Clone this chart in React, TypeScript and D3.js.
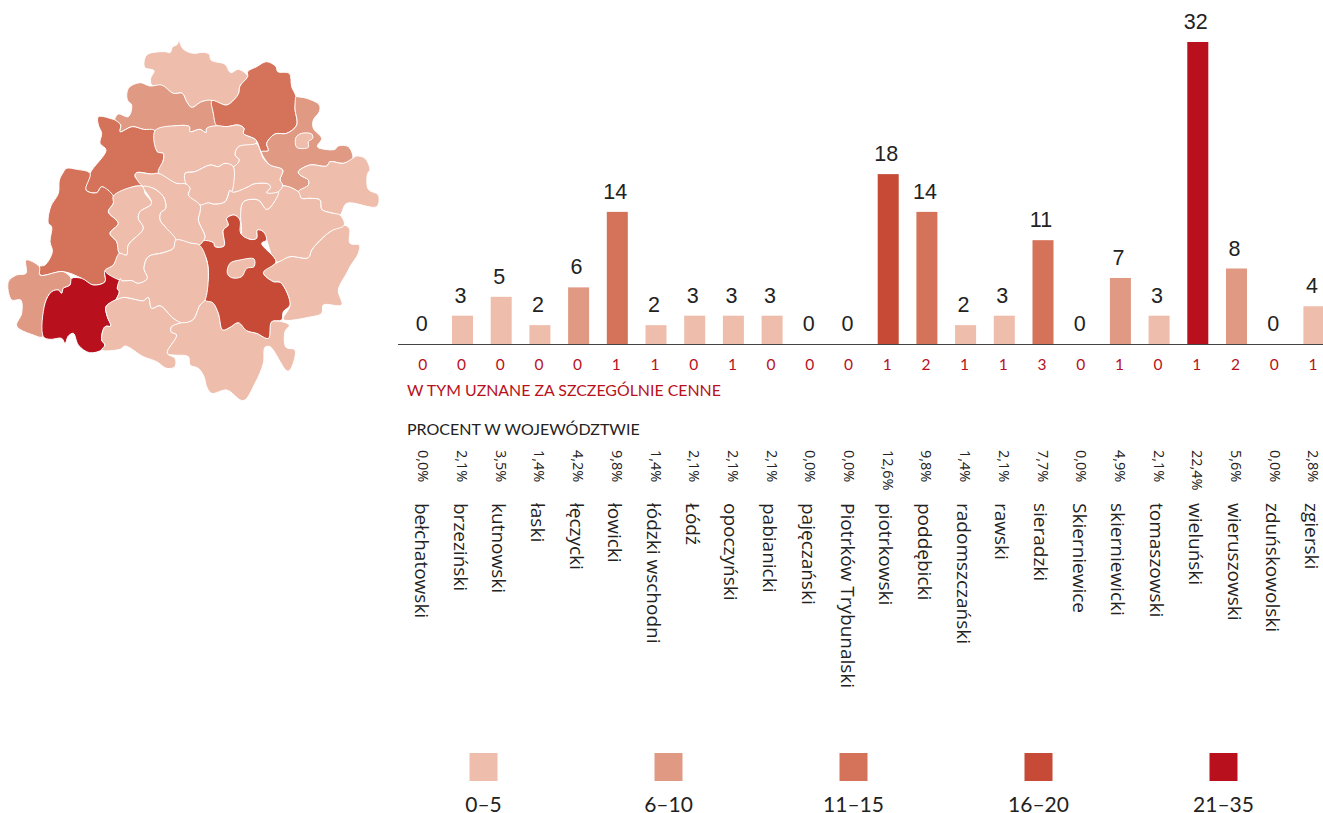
import React from "react";
import * as d3 from "d3";

const names = ["bełchatowski","brzeziński","kutnowski","łaski","łęczycki","łowicki","łódzki wschodni","Łódź","opoczyński","pabianicki","pajęczański","Piotrków Trybunalski","piotrkowski","poddębicki","radomszczański","rawski","sieradzki","Skierniewice","skierniewicki","tomaszowski","wieluński","wieruszowski","zduńskowolski","zgierski"];
const totals = [0,3,5,2,6,14,2,3,3,3,0,0,18,14,2,3,11,0,7,3,32,8,0,4];
const special = [0,0,0,0,0,1,1,0,1,0,0,0,1,2,1,1,3,0,1,0,1,2,0,1];
const percents = ["0,0%","2,1%","3,5%","1,4%","4,2%","9,8%","1,4%","2,1%","2,1%","2,1%","0,0%","0,0%","12,6%","9,8%","1,4%","2,1%","7,7%","0,0%","4,9%","2,1%","22,4%","5,6%","0,0%","2,8%"];
const legendLabels = ["0–5","6–10","11–15","16–20","21–35"];
const legendColors = ["#eebdac","#e09a84","#d5735a","#c64a36","#b8111d"];
const thresholds = [6,11,16,21];

type Pt = [number, number];
// Outline tracing of the powiats, in a 3x trace space of the map area.
const shapes: [string, Pt[]][] = [
["kutnowski",[[537,33],[543,47],[553,60],[580,70],[610,67],[628,73],[633,90],[675,103],[692,128],[715,118],[743,140],[720,168],[716,190],[703,208],[680,225],[636,212],[605,215],[575,232],[560,215],[547,190],[520,190],[485,168],[455,165],[452,145],[462,122],[434,112],[440,75],[495,65],[510,68],[518,50],[530,45]]],
["łęczycki",[[345,265],[355,252],[385,260],[395,225],[382,210],[385,175],[420,158],[450,168],[485,165],[520,190],[547,190],[560,215],[575,232],[605,215],[636,212],[640,250],[650,287],[620,295],[618,308],[600,298],[570,305],[568,290],[530,287],[465,302],[430,298],[397,290],[360,305],[362,285],[345,270]]],
["łowicki",[[743,125],[770,110],[800,95],[828,110],[833,125],[868,130],[875,170],[888,200],[885,235],[890,285],[860,310],[825,312],[800,340],[805,362],[785,365],[768,330],[730,310],[732,295],[715,285],[680,290],[650,287],[640,250],[636,212],[680,225],[703,208],[716,190],[720,168],[743,140]]],
["skierniewicki",[[890,200],[920,205],[958,225],[958,245],[940,270],[940,295],[965,325],[952,350],[975,358],[1005,358],[1015,348],[1045,350],[1058,385],[1030,400],[990,395],[980,408],[930,405],[895,425],[900,435],[925,450],[925,465],[900,485],[870,472],[848,465],[840,450],[848,420],[810,405],[785,365],[805,362],[800,340],[825,312],[860,310],[890,285],[885,235],[888,200]]],
["Skierniewice",[[888,322],[905,310],[935,312],[938,325],[925,335],[925,352],[890,352]]],
["poddębicki",[[295,260],[340,268],[345,270],[362,285],[360,305],[397,290],[430,298],[465,302],[472,365],[490,370],[490,390],[475,430],[455,432],[410,428],[405,440],[430,465],[400,470],[340,498],[305,470],[290,488],[258,480],[270,430],[318,360],[300,340],[305,310],[295,285]]],
["sieradzki",[[200,415],[230,418],[270,430],[258,480],[290,488],[305,470],[340,498],[340,520],[325,545],[355,580],[330,610],[350,635],[358,670],[340,705],[315,725],[315,755],[280,765],[245,745],[190,725],[120,735],[118,710],[135,705],[157,665],[150,635],[155,590],[145,580],[152,530],[175,490],[178,450],[188,430]]],
["wieruszowski",[[78,690],[118,710],[120,735],[190,725],[213,745],[210,765],[190,775],[185,790],[175,780],[155,785],[135,820],[128,920],[100,915],[50,888],[65,850],[62,810],[35,810],[25,755],[50,735],[78,730]]],
["wieluński",[[315,722],[362,745],[352,775],[358,785],[348,808],[318,830],[322,860],[332,888],[315,890],[305,930],[315,945],[305,960],[268,968],[235,945],[220,910],[205,918],[195,940],[185,925],[150,928],[130,920],[135,820],[155,785],[175,780],[185,790],[190,775],[210,765],[215,745],[245,745],[280,765],[315,755]]],
["pajęczański",[[318,830],[350,808],[370,802],[405,808],[430,812],[445,802],[455,835],[480,827],[520,865],[545,878],[515,890],[513,905],[530,915],[502,970],[525,985],[525,1010],[500,1015],[470,995],[430,980],[375,948],[360,958],[305,960],[315,945],[305,930],[315,890],[332,888],[322,860]]],
["radomszczański",[[545,878],[578,870],[600,825],[615,810],[638,818],[655,850],[668,900],[690,892],[715,878],[740,902],[770,910],[805,925],[815,875],[868,885],[855,905],[858,952],[885,960],[870,1020],[860,1022],[810,950],[795,952],[790,1000],[765,1060],[730,1112],[680,1080],[635,1090],[620,1070],[612,1040],[595,1015],[570,1005],[565,980],[502,970],[530,915],[513,905],[515,890]]],
["piotrkowski",[[703,555],[720,570],[722,610],[750,628],[770,625],[772,600],[790,605],[800,630],[785,640],[828,695],[790,728],[820,755],[842,758],[870,825],[850,845],[845,870],[815,875],[805,925],[770,910],[740,902],[715,878],[690,892],[668,900],[655,850],[638,818],[615,810],[625,740],[620,690],[598,645],[610,632],[640,638],[645,650],[672,648],[670,600],[685,585],[680,565]]],
["Piotrków Trybunalski",[[690,700],[720,690],[762,687],[762,710],[740,715],[725,740],[695,743],[682,730]]],
["opoczyński",[[828,700],[870,680],[925,683],[935,660],[990,605],[1030,585],[1048,595],[1050,640],[1078,645],[1075,670],[1050,710],[1040,730],[1015,780],[1025,825],[970,825],[965,850],[925,862],[850,868],[870,825],[842,758],[820,755],[790,728]]],
["rawski",[[895,485],[925,465],[925,450],[900,435],[895,425],[930,405],[980,408],[990,395],[1030,400],[1058,385],[1070,378],[1095,385],[1110,420],[1103,430],[1105,478],[1135,495],[1130,530],[1040,520],[1020,555],[1000,550],[965,538],[960,510],[930,505],[905,505]]],
["tomaszowski",[[848,468],[895,485],[905,505],[930,505],[960,510],[965,538],[1000,550],[1020,555],[1033,585],[990,605],[935,660],[925,683],[870,680],[828,695],[800,630],[790,605],[772,600],[770,625],[750,628],[722,610],[725,525],[735,512],[775,510],[800,538],[820,520],[835,485]]],
["łódzki wschodni",[[600,525],[625,518],[640,522],[675,515],[690,480],[695,485],[745,470],[760,462],[805,462],[812,472],[800,488],[835,485],[820,520],[800,538],[775,510],[735,512],[725,525],[722,560],[725,610],[720,570],[703,555],[680,565],[685,585],[670,600],[672,648],[645,650],[640,638],[610,632],[615,620],[595,570],[600,545]]],
["brzeziński",[[768,340],[790,385],[810,405],[848,420],[840,450],[848,465],[835,485],[800,488],[812,472],[805,462],[760,462],[745,470],[695,485],[700,410],[718,390],[705,375],[715,350]]],
["zgierski",[[465,302],[530,287],[568,290],[570,305],[600,298],[618,308],[620,295],[650,287],[680,290],[715,285],[732,295],[730,310],[768,330],[768,340],[715,350],[705,375],[718,390],[700,410],[675,400],[655,410],[630,405],[585,425],[555,430],[558,462],[530,460],[475,430],[490,390],[490,370],[472,365]]],
["Łódź",[[555,430],[585,425],[630,405],[655,410],[675,400],[700,410],[695,485],[690,480],[675,515],[640,522],[625,518],[600,525],[565,495],[570,475],[558,462]]],
["pabianicki",[[405,435],[410,428],[455,432],[475,430],[530,460],[558,462],[570,475],[565,495],[600,525],[600,545],[595,570],[615,620],[610,632],[598,645],[575,640],[528,630],[495,590],[480,570],[482,548],[497,535],[490,500],[460,475],[430,470]]],
["zduńskowolski",[[340,498],[400,470],[430,470],[435,490],[455,520],[420,545],[415,565],[430,595],[385,645],[380,675],[358,670],[350,635],[330,610],[355,580],[325,545],[340,520]]],
["łaski",[[415,565],[420,545],[455,520],[430,470],[460,475],[490,500],[497,535],[482,548],[480,570],[495,590],[528,630],[520,655],[490,668],[445,680],[432,715],[442,745],[415,760],[395,752],[365,752],[315,722],[340,705],[358,670],[380,675],[385,645],[430,595]]],
["bełchatowski",[[528,630],[575,640],[598,645],[620,690],[625,740],[615,810],[600,825],[578,870],[545,878],[520,865],[480,827],[455,835],[445,802],[430,812],[405,808],[370,802],[350,808],[358,785],[352,775],[362,745],[365,752],[395,752],[415,760],[442,745],[432,715],[445,680],[490,668],[520,655]]],
];
// Enclaves are painted after their surrounding powiat.
const drawOrder = ["kutnowski","łęczycki","łowicki","skierniewicki","Skierniewice","poddębicki","sieradzki","wieruszowski","wieluński","pajęczański","radomszczański","opoczyński","rawski","tomaszowski","łódzki wschodni","piotrkowski","Piotrków Trybunalski","brzeziński","zgierski","Łódź","pabianicki","zduńskowolski","łaski","bełchatowski"];

const W = 1323, H = 813;
const FONT = "Lato, sans-serif";
const LABEL_FONT = "'Open Sans', sans-serif";
const VALUE_FONT = "'Liberation Sans', sans-serif";
const INK = "#222";
const RED = "#b8111d";

export default function App() {
  const x = d3.scaleBand<string>().domain(names).range([404.45, 404.45 + 24 * 38.7]).paddingInner(0.457).paddingOuter(0.2285);
  const y = d3.scaleLinear().domain([0, 32]).range([344, 42]);
  const color = d3.scaleThreshold<number, string>().domain(thresholds).range(legendColors);
  const mx = d3.scaleLinear().domain([0, 1170]).range([0, 390]);
  const my = d3.scaleLinear().domain([0, 1155]).range([30, 415]);
  const line = d3.line<Pt>().x(d => mx(d[0])).y(d => my(d[1])).curve(d3.curveCatmullRomClosed.alpha(0.5));
  const shapeMap = new Map(shapes);
  const valueOf = (n: string) => totals[names.indexOf(n)] ?? 0;
  const cx = (n: string) => (x(n) as number) + x.bandwidth() / 2;
  const legendX = d3.scalePoint<string>().domain(legendLabels).range([483.5, 1223.5]);

  return (
    <svg width={W} height={H} viewBox={`0 0 ${W} ${H}`} style={{ position: "absolute", left: 0, top: 0, fontFamily: FONT }}>
      <g>
        {drawOrder.map(n => (
          <path key={n} d={line(shapeMap.get(n) as Pt[]) as string} fill={color(valueOf(n))} stroke="#fff" strokeWidth={1} strokeLinejoin="round" />
        ))}
      </g>
      {names.map((n, i) => (
        <g key={n}>
          {totals[i] > 0 && <rect x={x(n)} y={y(totals[i])} width={x.bandwidth()} height={y(0) - y(totals[i])} fill={color(totals[i])} />}
          <text x={cx(n) - 2} y={y(totals[i]) - 13} textAnchor="middle" fontSize={21.5} fontFamily={VALUE_FONT} fill={INK}>{totals[i]}</text>
          <text x={cx(n) - 1} y={369.5} textAnchor="middle" fontSize={15.5} fill={RED}>{special[i]}</text>
          <text transform={`translate(${cx(n) - 5.5},450) rotate(90)`} fontSize={14.5} fontFamily={LABEL_FONT} fill={INK}>{percents[i]}</text>
          <text transform={`translate(${cx(n) - 9},503) rotate(90)`} fontSize={19} fontFamily={LABEL_FONT} fill={INK}>{n}</text>
        </g>
      ))}
      <line x1={398} x2={W} y1={344.5} y2={344.5} stroke="#444" strokeWidth={1} />
      <text x={407} y={396} fontSize={15.9} fill={RED}>W TYM UZNANE ZA SZCZEGÓLNIE CENNE</text>
      <text x={407} y={435} fontSize={16} fill={INK}>PROCENT W WOJEWÓDZTWIE</text>
      {legendLabels.map((l, i) => (
        <g key={l}>
          <rect x={(legendX(l) as number) - 14} y={753} width={28} height={28} fill={legendColors[i]} />
          <text x={legendX(l)} y={812} textAnchor="middle" fontSize={21} fill={INK}>{l}</text>
        </g>
      ))}
    </svg>
  );
}
